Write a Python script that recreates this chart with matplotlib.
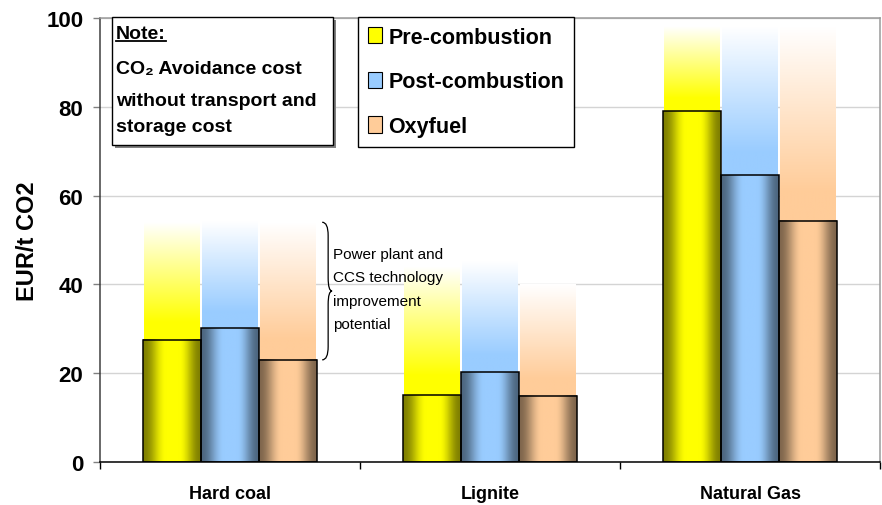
import numpy as np
import matplotlib
matplotlib.use("Agg")
import matplotlib.pyplot as plt
from matplotlib.patches import Rectangle, PathPatch
from matplotlib.path import Path
from matplotlib.lines import Line2D

plt.rcParams["font.family"] = ["Liberation Sans", "DejaVu Sans"]

# CO2 avoidance cost, EUR/t CO2
categories = ["Hard coal", "Lignite", "Natural Gas"]
series = ["Pre-combustion", "Post-combustion", "Oxyfuel"]
pre = [27.5, 15.0, 79.0]
post = [30.1, 20.2, 64.6]
oxy = [23.0, 14.9, 54.3]
# upper end of the improvement potential (faded part of each bar)
pre_top = [54, 44, 98]
post_top = [54, 45, 98]
oxy_top = [54, 40, 98]
yticks = [0, 20, 40, 60, 80, 100]

base_colors = [(1.0, 1.0, 0.0), (0.6, 0.8, 1.0), (1.0, 0.8, 0.6)]

W, H = 882, 506
fig = plt.figure(figsize=(W / 100, H / 100), dpi=100)


def fx(px):
    return px / W


def fy(py):
    return 1 - py / H


ax = fig.add_axes([fx(100), fy(463), fx(880) - fx(100), fy(19) - fy(463)])

bw = 0.223
offsets = [-bw, 0.0, bw]

# horizontal "cylinder" shading for the solid bars
t = np.linspace(0, 1, 96)
f = np.interp(t, [0, 0.4, 0.62, 1], [0, 1, 1, 0])
f = 0.5 - 0.5 * np.cos(np.pi * f)
shade = 0.5 + 0.5 * f

# vertical fade-to-white for the potential bars
tv = np.linspace(0, 1, 128)
mix = np.interp(tv, [0, 0.15, 1], [0, 0, 1])

values = [pre, post, oxy]
tops = [pre_top, post_top, oxy_top]
for s, (vals, tps, col) in enumerate(zip(values, tops, base_colors)):
    col = np.array(col)
    cyl = (shade[:, None] * col[None, :])[None, :, :]
    fade = (col[None, :] + (1 - col[None, :]) * mix[:, None])[:, None, :]
    for i in range(len(categories)):
        x0 = i + offsets[s] - bw / 2
        ax.imshow(fade, extent=[x0 + 0.004, x0 + bw - 0.004, vals[i], tps[i]],
                  origin="lower", aspect="auto", interpolation="bilinear", zorder=1)
        ax.imshow(cyl, extent=[x0, x0 + bw, 0, vals[i]],
                  origin="lower", aspect="auto", interpolation="bilinear", zorder=2)
    ax.bar(np.arange(len(categories)) + offsets[s], vals, width=bw,
           facecolor="none", edgecolor="black", linewidth=1.1, zorder=3)

ax.set_xlim(-0.5, 2.5)
ax.set_ylim(0, 100)

ax.set_yticks(yticks)
ax.set_yticklabels([str(v) for v in yticks], fontsize=16, fontweight="bold")
ax.tick_params(axis="y", length=5, width=1, color="#808080", pad=7)
ax.yaxis.grid(True, color="#d4d4d4", linewidth=1, zorder=0)
ax.set_axisbelow(True)

ax.set_xticks(range(len(categories)))
ax.set_xticklabels(categories, fontsize=13, fontweight="bold")
ax.tick_params(axis="x", which="major", length=0, pad=16.5)
ax.set_xticks([-0.5, 0.5, 1.5, 2.5], minor=True)
ax.tick_params(axis="x", which="minor", length=5, width=1, color="black")

ax.spines["left"].set_color("#404040")
ax.spines["left"].set_linewidth(1.1)
ax.spines["bottom"].set_color("black")
ax.spines["bottom"].set_linewidth(1.1)
for side in ["top", "right"]:
    ax.spines[side].set_color("#9a9a9a")
    ax.spines[side].set_linewidth(1.1)

fig.text(fx(28), fy(241), "EUR/t CO2", rotation=90, fontsize=17,
         fontweight="bold", ha="center", va="center")

# brace next to the hard coal group
xl = offsets[2] + bw / 2 + 0.02
xm = xl + 0.023
xt = xm + 0.015
top, bot = pre_top[0], oxy[0]
mid = (top + bot) / 2
r = 3.0
verts = [(xl, top), (xm, top), (xm, top - r),
         (xm, mid + r),
         (xm, mid), (xt, mid),
         (xm, mid), (xm, mid - r),
         (xm, bot + r),
         (xm, bot), (xl, bot)]
codes = [Path.MOVETO, Path.CURVE3, Path.CURVE3,
         Path.LINETO,
         Path.CURVE3, Path.CURVE3,
         Path.CURVE3, Path.CURVE3,
         Path.LINETO,
         Path.CURVE3, Path.CURVE3]
ax.add_patch(PathPatch(Path(verts, codes), facecolor="none",
                       edgecolor="black", linewidth=0.9, zorder=4))
ax.text(xt + 0.005, mid + 0.5, "Power plant and\nCCS technology\nimprovement\npotential",
        fontsize=11, ha="left", va="center", linespacing=1.85, zorder=4)

# legend
handles = [Rectangle((0, 0), 1, 1, facecolor=c, edgecolor="black", linewidth=0.8)
           for c in base_colors]
leg = ax.legend(handles, series, loc="upper left",
                bbox_to_anchor=(fx(358), fy(18)), bbox_transform=fig.transFigure,
                borderaxespad=0, borderpad=0.45, labelspacing=1.1,
                handlelength=0.65, handleheight=0.8, handletextpad=0.3,
                fancybox=False, framealpha=1, edgecolor="black",
                prop={"size": 15.5, "weight": "bold"})
leg.get_frame().set_linewidth(1.0)
leg.set_zorder(10)

# note box with drop shadow
bx0, by0, bx1, by1 = 112, 18, 333, 146
fig.add_artist(Rectangle((fx(bx0 + 3), fy(by1 + 3)), fx(bx1 - bx0), fy(by0) - fy(by1),
                         transform=fig.transFigure, facecolor="#808080",
                         edgecolor="none", zorder=5))
fig.add_artist(Rectangle((fx(bx0), fy(by1)), fx(bx1 - bx0), fy(by0) - fy(by1),
                         transform=fig.transFigure, facecolor="white",
                         edgecolor="black", linewidth=1.0, zorder=6))
note_lines = [("Note:", 39), ("CO\u2082 Avoidance cost", 74),
              ("without transport and", 106), ("storage cost", 132)]
note_texts = []
for txt, base in note_lines:
    note_texts.append(fig.text(fx(116), fy(base), txt, fontsize=14, fontweight="bold",
                               ha="left", va="baseline", zorder=7))

fig.canvas.draw()
bb = note_texts[0].get_window_extent()
fig.add_artist(Line2D([bb.x0 / W, bb.x1 / W], [fy(42), fy(42)],
                      transform=fig.transFigure, color="black", linewidth=1.3, zorder=7))

fig.savefig("out.png", dpi=100)
